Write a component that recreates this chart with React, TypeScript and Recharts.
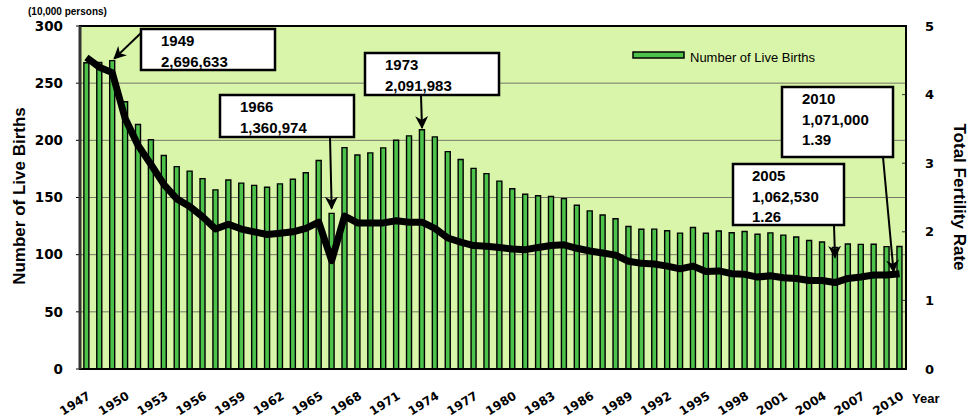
import { ComposedChart, Bar, Line, XAxis, YAxis, CartesianGrid } from "recharts";

// births in units of 10,000 persons
const years = [
  1947, 1948, 1949, 1950, 1951, 1952, 1953, 1954, 1955, 1956, 1957, 1958, 1959, 1960, 1961, 1962,
  1963, 1964, 1965, 1966, 1967, 1968, 1969, 1970, 1971, 1972, 1973, 1974, 1975, 1976, 1977, 1978,
  1979, 1980, 1981, 1982, 1983, 1984, 1985, 1986, 1987, 1988, 1989, 1990, 1991, 1992, 1993, 1994,
  1995, 1996, 1997, 1998, 1999, 2000, 2001, 2002, 2003, 2004, 2005, 2006, 2007, 2008, 2009, 2010,
];
const births = [
  267.9, 268.2, 269.7, 233.8, 213.8, 200.5, 186.8, 177.0, 173.1, 166.5, 156.7, 165.3, 162.6, 160.6, 158.9, 161.9,
  166.0, 171.7, 182.4, 136.1, 193.6, 187.2, 189.0, 193.4, 200.1, 203.9, 209.2, 203.0, 190.1, 183.3, 175.5, 170.9,
  164.3, 157.7, 152.9, 151.5, 150.9, 149.0, 143.2, 138.3, 134.7, 131.4, 124.7, 122.2, 122.3, 120.9, 118.8, 123.8,
  118.7, 120.7, 119.2, 120.3, 117.8, 119.1, 117.1, 115.4, 112.4, 111.1, 106.3, 109.3, 109.0, 109.1, 107.0, 107.1,
];
const tfr = [
  4.54, 4.40, 4.32, 3.65, 3.26, 2.98, 2.69, 2.48, 2.37, 2.22, 2.04, 2.11, 2.04, 2.00, 1.96, 1.98,
  2.00, 2.05, 2.14, 1.58, 2.23, 2.13, 2.13, 2.13, 2.16, 2.14, 2.14, 2.05, 1.91, 1.85, 1.80, 1.79,
  1.77, 1.75, 1.74, 1.77, 1.80, 1.81, 1.76, 1.72, 1.69, 1.66, 1.57, 1.54, 1.53, 1.50, 1.46, 1.50,
  1.42, 1.43, 1.39, 1.38, 1.34, 1.36, 1.33, 1.32, 1.29, 1.29, 1.26, 1.32, 1.34, 1.37, 1.37, 1.39,
];
const leftTicks = [0, 50, 100, 150, 200, 250, 300];
const rightTicks = [0, 1, 2, 3, 4, 5];

const data = years.map((y, i) => ({ year: y, births: births[i], tfr: tfr[i] }));

// plot geometry (matches chart margins below)
const PX0 = 80, PX1 = 906, PY0 = 26, PY1 = 369;
const band = (PX1 - PX0) / years.length;
const xOf = (year: number) => PX0 + (years.indexOf(year) + 0.5) * band;
const yLeft = (v: number) => PY1 - (v / 300) * (PY1 - PY0);
const yRight = (v: number) => PY1 - (v / 5) * (PY1 - PY0);
const birthsOf = (year: number) => births[years.indexOf(year)];
const tfrOf = (year: number) => tfr[years.indexOf(year)];

const BAR = "#4cc24a";
const BG = "#d9f5a9";
const NOTE_FONT = "'Liberation Sans', Arial, sans-serif";
const TICK_FONT = "'DejaVu Sans', sans-serif";

function XTick({ x, y, payload }: any) {
  const tx = x + 5, ty = y + 21;
  return (
    <text x={tx} y={ty} transform={`rotate(-32, ${tx}, ${ty})`} textAnchor="end"
          fontFamily={TICK_FONT} fontWeight="bold" fontSize={12} fill="#000">
      {payload.value}
    </text>
  );
}

function Note({ x, y, w, h, lines, tx }: { x: number; y: number; w: number; h: number; lines: string[]; tx: number }) {
  return (
    <g>
      <rect x={x} y={y} width={w} height={h} fill="#fff" stroke="#000" strokeWidth={2.5} />
      {lines.map((l, i) => (
        <text key={i} x={tx} y={y + 17 + i * 20.5} fontFamily={NOTE_FONT} fontWeight="bold" fontSize={15} fill="#000">{l}</text>
      ))}
    </g>
  );
}

function Arrow({ x1, y1, x2, y2 }: { x1: number; y1: number; x2: number; y2: number }) {
  return <line x1={x1} y1={y1} x2={x2} y2={y2} stroke="#000" strokeWidth={2} markerEnd="url(#arrowHead)" />;
}

function Overlay() {
  return (
    <svg width={970} height={417} style={{ position: "absolute", left: 0, top: 0, pointerEvents: "none" }}>
      <defs>
        <marker id="arrowHead" viewBox="0 0 10 10" refX="9" refY="5" markerWidth="6.5" markerHeight="6.5" orient="auto">
          <path d="M0,0 L10,5 L0,10 L3,5 z" fill="#000" />
        </marker>
      </defs>
      <rect x={PX0} y={PY0} width={PX1 - PX0} height={PY1 - PY0} fill="none" stroke="#000" strokeWidth={2} />
      <line x1={PX0} y1={PY0} x2={PX0} y2={PY1} stroke="#333" strokeWidth={3} />

      {/* legend */}
      <rect x={633} y={52} width={51} height={6} fill={BAR} stroke="#000" strokeWidth={1.5} />
      <text x={690} y={62} fontFamily={NOTE_FONT} fontSize={13} fill="#000">Number of Live Births</text>

      {/* axis titles */}
      <text x={28} y={15} fontFamily={NOTE_FONT} fontWeight="bold" fontSize={10} fill="#000">(10,000 persons)</text>
      <text x={0} y={0} transform="translate(25,196) rotate(-90)" textAnchor="middle"
            fontFamily={NOTE_FONT} fontWeight="bold" fontSize={17} fill="#000">Number of Live Births</text>
      <text x={0} y={0} transform="translate(954,197) rotate(90)" textAnchor="middle"
            fontFamily={NOTE_FONT} fontWeight="bold" fontSize={17} fill="#000">Total Fertility Rate</text>
      <text x={912} y={403} fontFamily={NOTE_FONT} fontWeight="bold" fontSize={13} fill="#000">Year</text>

      {/* annotations */}
      <Arrow x1={141} y1={33} x2={xOf(1949) + 2} y2={yLeft(birthsOf(1949)) - 2} />
      <Note x={141} y={29} w={134} h={41} tx={161} lines={["1949", "2,696,633"]} />

      <Arrow x1={330} y1={137} x2={xOf(1966)} y2={yLeft(birthsOf(1966)) - 5} />
      <Note x={220} y={95} w={134} h={42} tx={240} lines={["1966", "1,360,974"]} />

      <Arrow x1={421} y1={95} x2={xOf(1973)} y2={yLeft(birthsOf(1973)) - 2} />
      <Note x={365} y={53} w={134} h={42} tx={385} lines={["1973", "2,091,983"]} />

      <Arrow x1={834} y1={225} x2={xOf(2005)} y2={yLeft(birthsOf(2005)) + 10} />
      <Note x={733} y={164} w={111} h={61} tx={752} lines={["2005", "1,062,530", "1.26"]} />

      <Arrow x1={883} y1={157} x2={xOf(2010) - 6} y2={yRight(tfrOf(2010)) - 2} />
      <Note x={782} y={87} w={111} h={70} tx={802} lines={["2010", "1,071,000", "1.39"]} />
    </svg>
  );
}

export default function App() {
  return (
    <div style={{ position: "absolute", left: 0, top: 0, width: 970, height: 417, background: "#fff" }}>
      <ComposedChart width={970} height={417} data={data} margin={{ top: 26, right: 0, bottom: 0, left: 0 }}
                     barCategoryGap="30%">
        <CartesianGrid yAxisId="left" vertical={false} fill={BG} stroke="#777766" strokeWidth={1} />
        <XAxis dataKey="year" interval={2} height={48} tick={<XTick />} tickLine={false}
               axisLine={{ stroke: "#000", strokeWidth: 2 }} />
        <YAxis yAxisId="left" width={80} domain={[0, 300]} ticks={leftTicks} tickSize={4} tickMargin={13}
               tick={{ fontFamily: TICK_FONT, fontWeight: "bold", fontSize: 13.5, fill: "#000" }}
               tickLine={{ stroke: "#000" }} axisLine={{ stroke: "#333", strokeWidth: 2 }} />
        <YAxis yAxisId="right" orientation="right" width={64} domain={[0, 5]} ticks={rightTicks} tickSize={-4}
               tickMargin={23} tick={{ fontFamily: TICK_FONT, fontWeight: "bold", fontSize: 13, fill: "#000" }}
               tickLine={{ stroke: "#333" }} axisLine={{ stroke: "#000", strokeWidth: 2 }} />
        <Bar yAxisId="left" dataKey="births" fill={BAR} stroke="#000" strokeWidth={1.4} isAnimationActive={false} />
        <Line yAxisId="right" dataKey="tfr" type="linear" stroke="#000" strokeWidth={7} strokeLinejoin="round"
              dot={false} activeDot={false} isAnimationActive={false} />
      </ComposedChart>
      <Overlay />
    </div>
  );
}
